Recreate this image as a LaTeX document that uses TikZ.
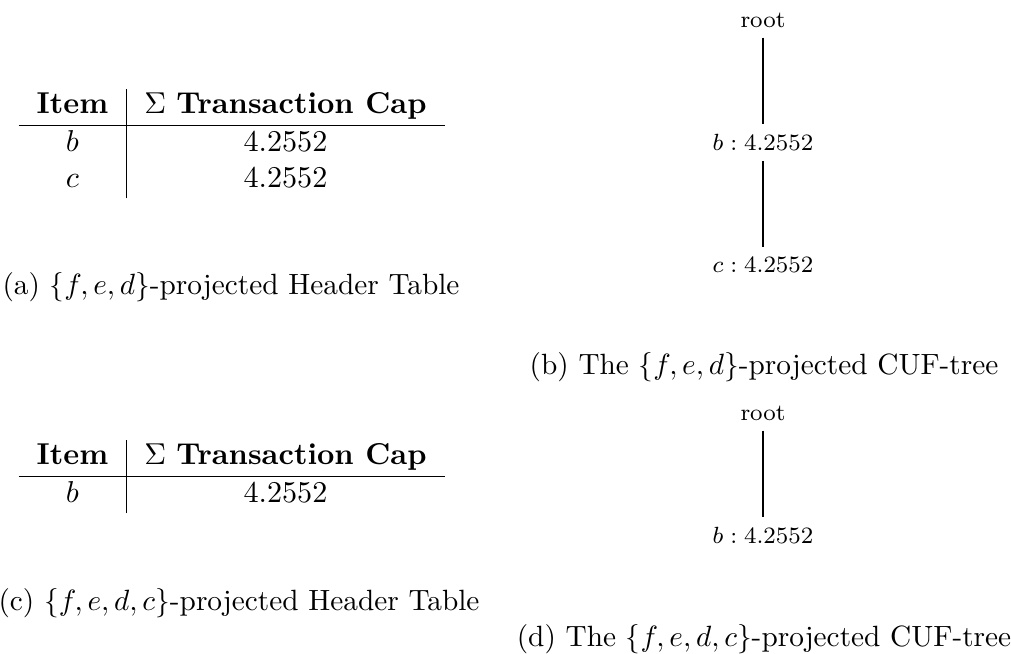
\documentclass[tikz,border=0pt]{standalone}
\usepackage{amssymb,amsmath}
\usepackage{graphicx}
\usepackage{tikz}
\usetikzlibrary{positioning}
\tikzstyle{treenode} = [font=\footnotesize]
\tikzstyle{branch} = [line width=0.35pt]
\tikzstyle{subcap} = [inner sep=0pt]
\tikzstyle{headtab} = [anchor=north west, inner sep=0pt]

\begin{document}
\begin{tikzpicture}[x=0.3412pt, y=-0.3412pt, node distance=29.4pt]
\useasboundingbox (0,0) rectangle (1011,654);
% (a) header table
\node[headtab] (tabA) at (18,88) {\scalebox{1.03}{\begin{tabular}{c|c}
\textbf{Item} & $\Sigma$ \textbf{Transaction Cap}\\ \hline
$b$ & 4.2552\\
$c$ & 4.2552
\end{tabular}}};
\node[subcap] (capA) at (231,287) {(a) $\{f,e,d\}$-projected Header Table};
% (b) tree
\node[treenode] (rootB) at (763,20) {root};
\node[treenode, below=of rootB] (bB) {$b:4.2552$};
\node[treenode, below=of bB] (cB) {$c:4.2552$};
\draw[branch] (rootB) -- (bB);
\draw[branch] (bB) -- (cB);
\node[subcap] (capB) at (764,367) {(b) The $\{f,e,d\}$-projected CUF-tree};
% (c) header table
\node[headtab] (tabC) at (18,439) {\scalebox{1.03}{\begin{tabular}{c|c}
\textbf{Item} & $\Sigma$ \textbf{Transaction Cap}\\ \hline
$b$ & 4.2552
\end{tabular}}};
\node[subcap] (capC) at (239,603) {(c) $\{f,e,d,c\}$-projected Header Table};
% (d) tree
\node[treenode] (rootD) at (763,413) {root};
\node[treenode, below=of rootD] (bD) {$b:4.2552$};
\draw[branch] (rootD) -- (bD);
\node[subcap] (capD) at (764,639) {(d) The $\{f,e,d,c\}$-projected CUF-tree};
\end{tikzpicture}
\end{document}
